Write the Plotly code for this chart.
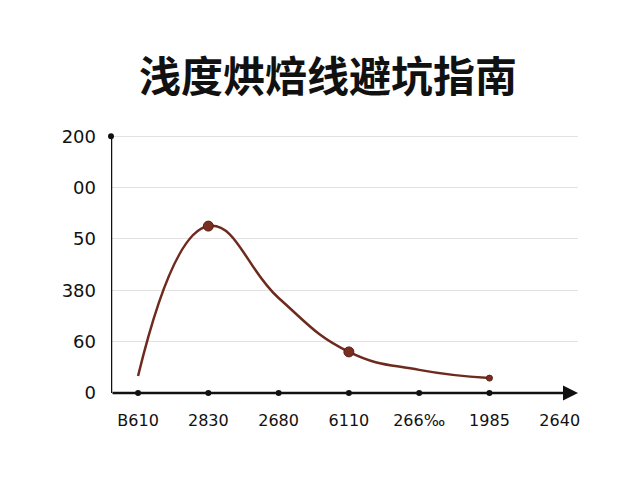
import plotly.graph_objects as go

# category positions and tick labels
x_labels = ["B610", "2830", "2680", "6110", "266‰", "1985", "2640"]
y_labels = ["0", "60", "380", "50", "00", "200"]

curve_x = [0, 1, 2, 3, 4, 5]
curve_y = [0.33, 3.25, 1.85, 0.8, 0.45, 0.29]
mark_x = [1, 3, 5]
mark_y = [3.25, 0.8, 0.29]

brown = "#6e2a1e"

fig = go.Figure()
fig.add_trace(go.Scatter(
    x=curve_x, y=curve_y, mode="lines",
    line=dict(color=brown, width=2.5, shape="spline", smoothing=1.3),
    hoverinfo="skip",
))
fig.add_trace(go.Scatter(
    x=mark_x, y=mark_y, mode="markers",
    marker=dict(color="#7a2e22", size=[10, 10, 6], opacity=1,
                line=dict(color="#5a1f15", width=1)),
))
# dots on the x axis
fig.add_trace(go.Scatter(
    x=list(range(6)), y=[0] * 6, mode="markers",
    marker=dict(color="#111", size=6, opacity=1), cliponaxis=False,
))
fig.add_trace(go.Scatter(
    x=[-0.385], y=[5], mode="markers",
    marker=dict(color="#111", size=6, opacity=1), cliponaxis=False,
))

fig.update_layout(
    width=640, height=480,
    margin=dict(l=103, r=70, t=120, b=95),
    paper_bgcolor="white", plot_bgcolor="white",
    showlegend=False,
    title=dict(text="<b>浅度烘焙线避坑指南</b>", x=0.5, y=0.855, xanchor="center",
               yanchor="middle",
               font=dict(size=42, color="#111", family="Noto Sans CJK SC")),
    font=dict(family="DejaVu Sans", size=16, color="#111"),
    xaxis=dict(range=[-0.385, 6.26], tickvals=list(range(7)), ticktext=x_labels,
               showgrid=False, zeroline=False, showline=False, ticks="",
               automargin=False, ticklabelstandoff=16,
               tickfont=dict(size=16)),
    yaxis=dict(range=[0, 5.16], tickvals=list(range(6)), ticktext=y_labels,
               showgrid=True, gridcolor="#e2e2e2", zeroline=False,
               showline=False, ticks="", ticklabelstandoff=14,
               automargin=False, tickfont=dict(size=18)),
)
# axes lines
fig.add_shape(type="line", xref="x", yref="y", x0=-0.385, x1=-0.385, y0=0, y1=5,
              line=dict(color="#111", width=2.5))
fig.add_annotation(x=6.26, y=0, ax=-0.385, ay=0, xref="x", yref="y", axref="x", ayref="y",
                   showarrow=True, arrowhead=2, arrowsize=1.2, arrowwidth=2.5,
                   arrowcolor="#111", text="")
fig.write_html("out.html")
